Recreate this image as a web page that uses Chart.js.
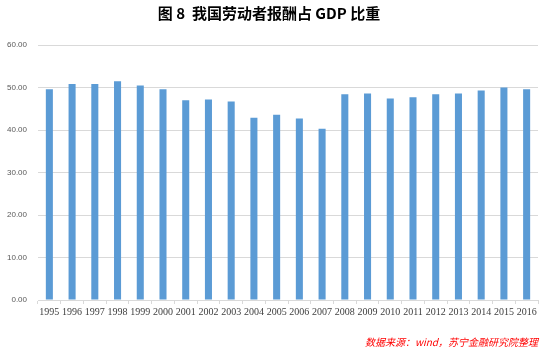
<!DOCTYPE html>
<html>
<head>
<meta charset="utf-8">
<script src="https://cdn.jsdelivr.net/npm/chart.js@4"></script>
<style>
  html, body { margin: 0; padding: 0; background: #fff; }
  #wrap { width: 544px; height: 351px; }
</style>
</head>
<body>
<div id="wrap"><canvas id="grafico" width="544" height="351"></canvas></div>
<script>
// ---------------- DADOS ----------------
const anos = ["1995", "1996", "1997", "1998", "1999", "2000", "2001", "2002", "2003", "2004", "2005",
    "2006", "2007", "2008", "2009", "2010", "2011", "2012", "2013", "2014", "2015", "2016"];
const proporcao = [49.6, 50.8, 50.8, 51.5, 50.5, 49.6, 47.0, 47.2, 46.7, 42.9, 43.6,
    42.7, 40.3, 48.4, 48.6, 47.4, 47.7, 48.4, 48.6, 49.3, 50.0, 49.6];
const titulo = "图 8  我国劳动者报酬占 GDP 比重";
const fonte = "数据来源：wind，苏宁金融研究院整理";

// ---------------- GRÁFICO ----------------
new Chart(document.getElementById("grafico"), {
    type: "bar",
    data: {
        labels: anos,
        datasets: [{
            data: proporcao,
            backgroundColor: "#5B9BD5",
            categoryPercentage: 1,
            barPercentage: 0.31
        }]
    },
    options: {
        responsive: false,
        animation: false,
        layout: { padding: { left: 0, right: 6, top: 0, bottom: 3 } },
        plugins: {
            legend: { display: false },
            tooltip: { enabled: false },
            title: {
                display: true,
                text: titulo,
                color: "#000",
                font: { family: "'Noto Sans CJK SC'", size: 15, weight: "bold" },
                padding: { top: 4, bottom: 23 }
            },
            subtitle: {
                display: true,
                text: fonte,
                position: "bottom",
                align: "end",
                color: "#ff0000",
                font: { family: "'Noto Sans CJK SC'", size: 10, style: "italic" },
                padding: { top: 16, bottom: 0 }
            }
        },
        scales: {
            x: {
                grid: { display: true, drawOnChartArea: false, color: "#d9d9d9", tickLength: 4 },
                border: { color: "#d9d9d9" },
                ticks: {
                    color: "#404040",
                    font: { family: "'Liberation Serif'", size: 10 },
                    maxRotation: 0,
                    autoSkip: false,
                    padding: 2
                }
            },
            y: {
                min: 0,
                max: 60,
                afterFit: s => { s.width = 38; },
                grid: { color: "#d9d9d9", drawTicks: false },
                border: { display: false },
                ticks: {
                    stepSize: 10,
                    color: "#595959",
                    font: { family: "'Liberation Sans'", size: 8 },
                    padding: 11,
                    callback: v => v.toFixed(2)
                }
            }
        }
    }
});
</script>
</body>
</html>
